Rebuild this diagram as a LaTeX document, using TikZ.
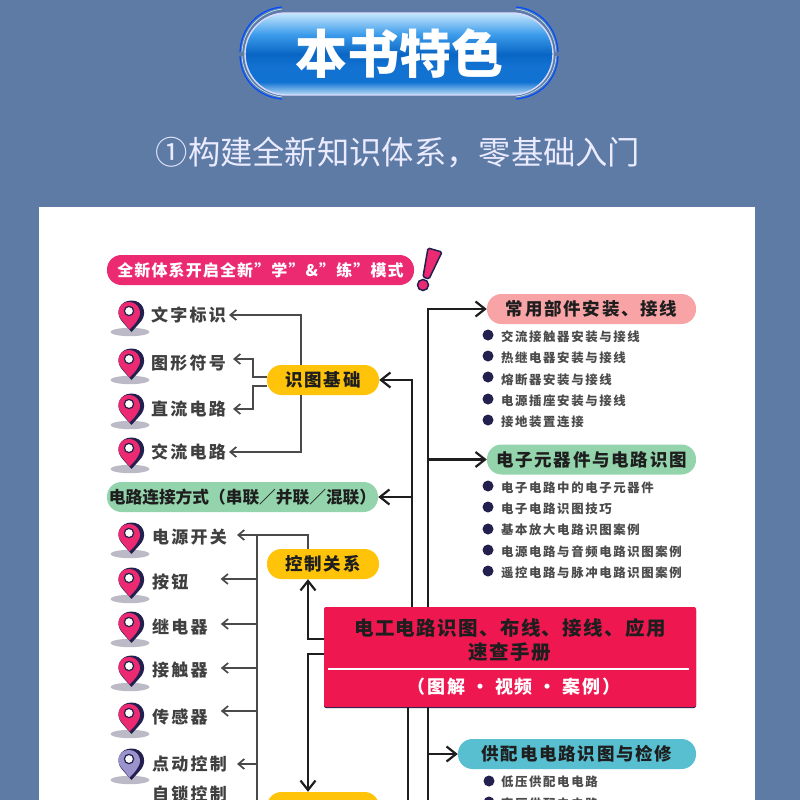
\documentclass[tikz,border=0pt]{standalone}
\usepackage{fontspec}
\usepackage{xcolor}
\usetikzlibrary{arrows.meta}
\usetikzlibrary{positioning}
\newfontfamily\cjkhei{Noto Sans CJK SC}
\newfontfamily\cjkwide[LetterSpace=10]{Noto Sans CJK SC}
\newfontfamily\cjknarrow[LetterSpace=7]{Noto Sans CJK SC}
\newfontfamily\cjkitem[LetterSpace=13]{Noto Sans CJK SC}
\definecolor{pagebg}{HTML}{5E7BA6}
\definecolor{rosepill}{HTML}{EB2A72}
\definecolor{yellowpill}{HTML}{FFC40A}
\definecolor{greenpill}{HTML}{93D4AC}
\definecolor{pinkpill}{HTML}{F8A3A6}
\definecolor{tealpill}{HTML}{58BFD1}
\definecolor{mainred}{HTML}{EE1750}
\definecolor{navy}{HTML}{23204F}
\definecolor{inkline}{HTML}{4A4A4A}
\definecolor{inkdark}{HTML}{1E1E1E}
\definecolor{lilac}{HTML}{9A93CC}
\definecolor{pinshadow}{HTML}{BDBAC8}
\definecolor{buttonlow}{HTML}{B8DDF6}
\definecolor{buttonmid}{HTML}{1272D2}
\definecolor{buttondeep}{HTML}{0A66C4}
\definecolor{buttonup}{HTML}{3D9CEB}
\definecolor{buttontop}{HTML}{C4E6FC}
\pgfdeclareverticalshading{buttonfill}{100bp}{
    color(0bp)=(buttonlow);
    color(25bp)=(buttonlow);
    color(33bp)=(buttonmid);
    color(42bp)=(buttonmid);
    color(50bp)=(buttondeep);
    color(62bp)=(buttonup);
    color(75bp)=(buttontop);
    color(100bp)=(buttontop)}
\begin{document}
\begin{tikzpicture}[
                x=1pt, y=-1pt,
                pill/.style={rectangle, rounded corners=14.5pt, minimum height=30pt,
                    inner sep=0pt, text=inkdark, align=center,
                    font=\fontsize{17.5}{19}\bfseries\cjkwide},
                topic/.style={pill, fill=yellowpill, minimum width=112pt},
                branch/.style={pill, minimum width=209pt},
                leaf/.style={anchor=west, inner sep=0pt, text=inkdark!85!white,
                    font=\fontsize{17}{19}\bfseries\cjkitem},
                item/.style={anchor=west, inner sep=0pt, text=inkdark!80!white,
                    font=\fontsize{12.4}{14}\bfseries\cjkitem},
                dot/.style={circle, fill=navy, minimum size=11pt, inner sep=0pt},
                thinarrow/.style={-{Straight Barb[length=6pt,width=10pt]}, line width=1.7pt, draw=inkline},
                boldarrow/.style={-{Straight Barb[length=9.5pt,width=15pt]}, line width=2.2pt, draw=inkdark},
                thinline/.style={line width=1.7pt, draw=inkline},
                boldline/.style={line width=2.2pt, draw=inkdark},
                pinmark/.pic={
                    \fill[pinshadow] (0,32) ellipse (19.5pt and 4.2pt);
                    \fill[navy] (1.5,0.5) .. controls (-10,0.5) and (-15,12) .. (-9,20)
                        .. controls (-6,24) and (-2,28) .. (1.5,32)
                        .. controls (5,28) and (9,24) .. (12,20)
                        .. controls (17,12) and (13,0.5) .. (1.5,0.5) -- cycle;
                    \fill[#1] (-1,2) .. controls (-10,2) and (-15,12) .. (-9,19)
                        .. controls (-6,23) and (-3,26) .. (-0.5,29.5)
                        .. controls (3,26) and (6,23) .. (8,19)
                        .. controls (13,12) and (8,2) .. (-1,2) -- cycle;
                    \draw[navy, fill=white, line width=1.2pt] (-1,11) circle (4.6pt);
                },
            ]
            \clip (0,0) rectangle (800,800);
            \fill[pagebg] (0,0) rectangle (800,800);
            \fill[white] (39,207) rectangle (755,800);

            % Header button
            \draw[white!85!blue, line width=1.4pt, shading=buttonfill, rounded corners=41pt]
                (245,13) rectangle (553,95);
            \node[inner sep=0pt, text=white, font=\fontsize{52}{54}\bfseries\cjkhei] (title) at (399.5,53) {本书特色};
            \node[inner sep=0pt, text=white!92!blue, font=\fontsize{32.3}{34}\cjkhei] (subtitle) at (398,152) {①构建全新知识体系，零基础入门};

            % Header brackets
            \foreach \dx/\sx in {0/1, 798/-1} {
                \begin{scope}[shift={(\dx,0)}, xscale=\sx]
                \draw[blue!70!cyan, line width=1.2pt] (282,7) .. controls (258,9) and (241,28) .. (240,52);
                \draw[blue!70!cyan, line width=1.2pt] (240,56) .. controls (241,80) and (258,97) .. (282,99);
                \draw[white!75!cyan, line width=0.6pt] (282,9) .. controls (259,12) and (243,30) .. (242,52);
                \draw[white!75!cyan, line width=0.6pt] (242,56) .. controls (243,78) and (259,94) .. (282,97);
                \end{scope}
            }

            % Heading of the left column
            \node[pill, fill=rosepill, text=white, minimum width=307pt, font=\fontsize{16}{18}\bfseries\cjknarrow] (intro) at (260.5,270) {全新体系开启全新”学”\&”练”模式};
            \fill[rosepill, draw=navy, line width=1.5pt, rounded corners=1.5pt] (428,248) -- (442,252) -- (429,279) -- (423,277) -- cycle;
            \fill[rosepill, draw=navy, line width=1.5pt] (423,285) circle (5.5pt);

            % Pins
            \foreach \py in {300,348,393,437,522,567,611,655,702}
                \pic at (130,\py) {pinmark=rosepill};
            \pic at (130,748) {pinmark=lilac};

            % Leaves of the first topic
            \node[leaf] (text_marks) at (151,315) {文字标识};
            \node[leaf] (symbols) at (151,363) {图形符号};
            \node[leaf] (dc_circuit) at (151,409) {直流电路};
            \node[leaf] (ac_circuit) at (151,452) {交流电路};

            % Leaves of the second topic
            \node[leaf] (switch) at (152,537) {电源开关};
            \node[leaf] (button) at (152,582) {按钮};
            \node[leaf] (relay) at (152,627) {继电器};
            \node[leaf] (contactor) at (152,670) {接触器};
            \node[leaf] (sensor) at (152,717) {传感器};
            \node[leaf] (jog) at (152,764) {点动控制};
            \node[leaf] (latch) at (152,794) {自锁控制};

            % Pills
            \node[topic] (basics) at (323,380) {识图基础};
            \node[pill, fill=greenpill, minimum width=271pt, font=\fontsize{16.7}{18}\bfseries\cjkhei] (wiring) at (242.5,497) {电路连接方式（串联／并联／混联）};
            \node[topic] (control) at (323,564) {控制关系};
            \node[topic] (lower) at (323,807) {};
            \node[branch, fill=pinkpill] (parts) at (591.5,309) {常用部件安装、接线};
            \node[branch, fill=greenpill] (devices) at (591.5,459.5) {电子元器件与电路识图};
            \node[pill, minimum width=238pt, fill=tealpill] (supply) at (577,754) {供配电电路识图与检修};

            % Main box
            \fill[navy, rounded corners=2pt] (324,608.5) rectangle (696,708);
            \node[rectangle, fill=mainred, rounded corners=2pt, minimum width=372pt, minimum height=100pt, inner sep=0pt] (book) at (510,657) {};
            \node[inner sep=0pt, text=inkdark, align=center, font=\fontsize{19.5}{24}\bfseries\cjknarrow] (book_title) at (510,640) {电工电路识图、布线、接线、应用\\速查手册};
            \draw[white, line width=2.2pt] (328,669) -- (689,669);
            \node[inner sep=0pt, text=white, font=\fontsize{18}{20}\bfseries\cjkwide] (book_sub) at (514,687) {（图解 · 视频 · 案例）};

            % Items
            \node[dot] (p1) at (488,335) {};
            \node[item] at (501,337) {交流接触器安装与接线};
            \node[dot] (p2) at (488,356) {};
            \node[item] at (501,358) {热继电器安装与接线};
            \node[dot] (p3) at (488,377) {};
            \node[item] at (501,380) {熔断器安装与接线};
            \node[dot] (p4) at (488,399) {};
            \node[item] at (501,401) {电源插座安装与接线};
            \node[dot] (p5) at (488,420) {};
            \node[item] at (501,422) {接地装置连接};

            \node[dot] (d1) at (488,486) {};
            \node[item] at (501,488) {电子电路中的电子元器件};
            \node[dot] (d2) at (488,507) {};
            \node[item] at (501,509) {电子电路识图技巧};
            \node[dot] (d3) at (488,529) {};
            \node[item] at (501,530) {基本放大电路识图案例};
            \node[dot] (d4) at (488,550) {};
            \node[item] at (501,552) {电源电路与音频电路识图案例};
            \node[dot] (d5) at (488,571) {};
            \node[item] at (501,573) {遥控电路与脉冲电路识图案例};

            \node[dot] (s1) at (489,781) {};
            \node[item] at (501,782) {低压供配电电路};
            \node[dot] (s2) at (489,802) {};
            \node[item] at (501,804) {高压供配电电路};

            % Thin arrows of the first topic
            \draw[thinarrow] ([xshift=-22.3pt]basics.north) |- ([xshift=3pt]text_marks.east);
            \draw[thinarrow] ([xshift=-22.3pt]basics.south) |- ([xshift=3pt]ac_circuit.east);
            \draw[thinarrow] ([yshift=3pt]basics.west) -- ++(-14,0) |- ([shift={(7pt,4pt)}]symbols.east);
            \draw[thinarrow] ([yshift=-6pt]basics.west) -- ++(-14,0) |- ([xshift=7pt]dc_circuit.east);

            % Thin arrows of the second topic
            \coordinate (rail_top) at (257,535);
            \coordinate (rail_end) at (257,800);
            \coordinate (tip_button) at ([shift={(32pt,3pt)}]button.east);
            \coordinate (tip_relay) at ([shift={(13pt,3pt)}]relay.east);
            \coordinate (tip_contactor) at ([shift={(13pt,2pt)}]contactor.east);
            \coordinate (tip_sensor) at ([shift={(13pt,6pt)}]sensor.east);
            \draw[thinline] (rail_top) -- (rail_end);
            \draw[thinarrow] ([xshift=-15pt]control.north) |- ([shift={(10pt,2pt)}]switch.east);
            \draw[thinarrow] (rail_top |- tip_button) -- (tip_button);
            \draw[thinarrow] (rail_top |- tip_relay) -- (tip_relay);
            \draw[thinarrow] (rail_top |- tip_contactor) -- (tip_contactor);
            \draw[thinarrow] (rail_top |- tip_sensor) -- (tip_sensor);
            \draw[thinarrow] (rail_top |- jog.east) -- ([xshift=10pt]jog.east);

            % Bold arrows from the main box
            \coordinate (trunk_left) at ([xshift=-98pt]book.north);
            \coordinate (trunk_right) at ([xshift=-82pt]book.north);
            \draw[boldarrow] (trunk_left) |- (basics.east);
            \draw[boldarrow] (trunk_left |- wiring.east) -- (wiring.east);
            \draw[boldarrow] (trunk_right) |- (parts.west);
            \draw[boldarrow] (trunk_right |- devices.west) -- (devices.west);
            \draw[boldarrow] ([yshift=18pt]book.west) -| ([xshift=-15pt]control.south);
            \draw[boldarrow] ([yshift=3pt]book.west) -| ([xshift=-15pt]lower.north);
            \draw[boldline] ([xshift=-82pt]book.south) -- ++(0,100);
            \draw[boldline] ([xshift=-102pt]book.south) -- ++(0,100);
            \draw[boldarrow] (trunk_right |- supply.west) -- (supply.west);

            \end{tikzpicture}
\end{document}
